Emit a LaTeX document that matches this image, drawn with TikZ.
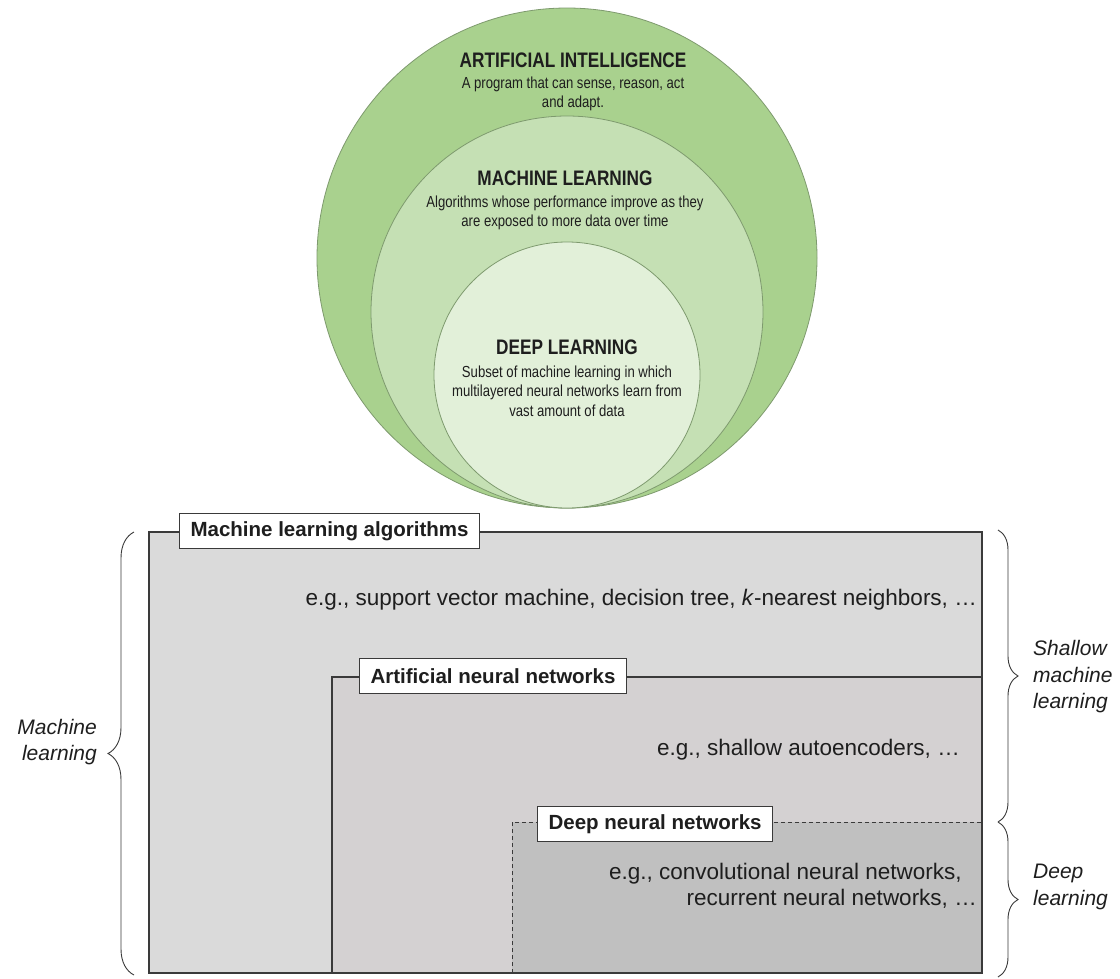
\documentclass[tikz,border=0pt]{standalone}
\usepackage{fontspec}
\setmainfont{Liberation Sans}
\newfontfamily\narrowfont[FakeStretch=0.82]{Liberation Sans}
\usetikzlibrary{decorations.pathreplacing}

\definecolor{aiGreen}{HTML}{A9D18E}
\definecolor{mlGreen}{HTML}{C5E0B4}
\definecolor{dlGreen}{HTML}{E2F0D9}
\definecolor{ringLine}{HTML}{7E9A6E}
\definecolor{inkDark}{HTML}{1E1E1E}
\definecolor{greyA}{HTML}{DADADA}
\definecolor{greyB}{HTML}{D4D1D2}
\definecolor{greyC}{HTML}{C0C0C0}
\definecolor{edgeDark}{HTML}{3A3A3A}

\tikzset{
  ring/.style={circle, inner sep=0pt, outer sep=0pt, draw=ringLine, line width=0.8pt},
  ringtitle/.style={inner sep=0pt, text=inkDark, font=\narrowfont\bfseries\fontsize{21}{24}\selectfont},
  ringtext/.style={inner sep=0pt, text=inkDark, align=center, font=\narrowfont\fontsize{16}{19.6}\selectfont},
  boxline/.style={draw=edgeDark, line width=1.2pt},
  tag/.style={draw=edgeDark, line width=1.2pt, fill=white, inner xsep=11pt, inner ysep=0pt,
    minimum height=35pt, text=inkDark, font=\bfseries\fontsize{20.5}{24}\selectfont},
  example/.style={inner sep=0pt, text=inkDark, font=\fontsize{22.5}{26}\selectfont},
  sidelabel/.style={inner sep=0pt, text=inkDark, font=\itshape\fontsize{21}{26.5}\selectfont},
  bracket/.style={draw=edgeDark, line width=0.9pt, decorate},
}

\begin{document}
\begin{tikzpicture}[x=1pt, y=-1pt]
\useasboundingbox (0,0) rectangle (1120,978);

% nested circles, all touching at the bottom
\node[ring, fill=aiGreen, minimum size=500pt] (ai) at (567,258) {};
\node[ring, fill=mlGreen, minimum size=392pt] (ml) at (567,312) {};
\node[ring, fill=dlGreen, minimum size=266pt] (dl) at (567,375) {};

\node[ringtitle] (aiTitle) at (573,60) {ARTIFICIAL INTELLIGENCE};
\node[ringtext] (aiText) at (573,94) {A program that can sense, reason, act\\and adapt.};

\node[ringtitle] (mlTitle) at (565,178) {MACHINE LEARNING};
\node[ringtext] (mlText) at (565,213) {Algorithms whose performance improve as they\\are exposed to more data over time};

\node[ringtitle] (dlTitle) at (567,347) {DEEP LEARNING};
\node[ringtext] (dlText) at (567,391) {Subset of machine learning in which\\multilayered neural networks learn from\\vast amount of data};

% nested boxes
\fill[greyA] (149,532) rectangle (982,973);
\fill[greyB] (332,677) rectangle (982,973);
\fill[greyC] (512,822) rectangle (982,973);
\draw[boxline] (332,973) -- (332,677) -- (982,677);
\draw[boxline, dash pattern=on 4pt off 3pt, line width=1pt] (512,973) -- (512,822) -- (982,822);
\draw[boxline] (149,532) rectangle (982,973);
\draw[draw=edgeDark, line width=1.8pt] (149,973) -- (982,973);

\node[tag, anchor=west] (tagMLA) at (179,531) {Machine learning algorithms};
\node[tag, anchor=west] (tagANN) at (359,676) {Artificial neural networks};
\node[tag, anchor=west] (tagDNN) at (537,824) {Deep neural networks};

\node[example, anchor=east] (exMLA) at (977,600) {e.g., support vector machine, decision tree, \textit{k}-nearest neighbors, …};
\node[example, anchor=east] (exANN) at (960,750) {e.g., shallow autoencoders, …};
\node[example, anchor=east, align=right] (exDNN) at (977,886) {e.g., convolutional neural networks,\hspace*{15pt}\\recurrent neural networks, …};

% braces and their labels
\coordinate (lbTop) at (134,532);
\coordinate (lbBot) at (134,975);
\coordinate (rbTop) at (998,530);
\coordinate (rbMid) at (998,822);
\coordinate (rbBot) at (998,977);
\draw[bracket, decoration={brace, amplitude=26pt}] (lbBot) -- (lbTop);
\draw[bracket, decoration={brace, amplitude=20pt}] (rbTop) -- (rbMid);
\draw[bracket, decoration={brace, amplitude=20pt}] (rbMid) -- (rbBot);

\node[sidelabel, anchor=east, align=right] (lblML) at (97,742) {Machine\\learning};
\node[sidelabel, anchor=west, align=left] (lblShallow) at (1033,677) {Shallow\\machine\\learning};
\node[sidelabel, anchor=west, align=left] (lblDeep) at (1033,887) {Deep\\learning};
\end{tikzpicture}
\end{document}
